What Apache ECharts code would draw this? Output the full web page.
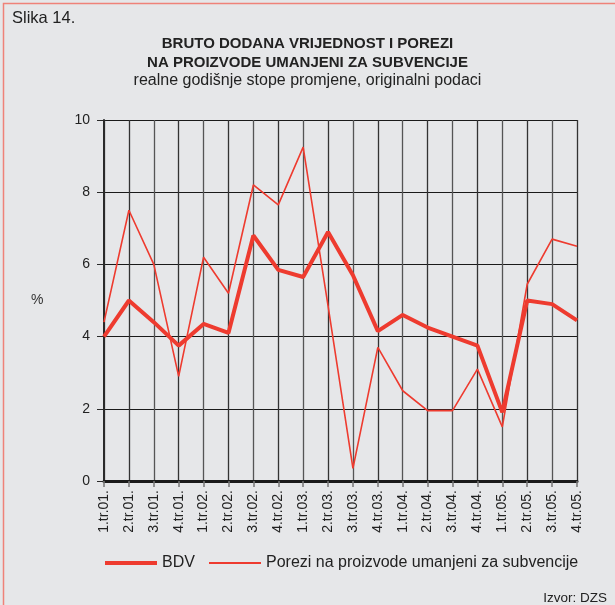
<!DOCTYPE html>
<html>
<head>
<meta charset="utf-8">
<script src="https://cdn.jsdelivr.net/npm/echarts@6/dist/echarts.min.js"></script>
<style>
html,body{margin:0;padding:0;background:#e6e7e9;}
#c{width:615px;height:605px;}
</style>
</head>
<body>
<div id="c"></div>
<script>
const categories = ['1.tr.01.','2.tr.01.','3.tr.01.','4.tr.01.','1.tr.02.','2.tr.02.','3.tr.02.','4.tr.02.','1.tr.03.','2.tr.03.','3.tr.03.','4.tr.03.','1.tr.04.','2.tr.04.','3.tr.04.','4.tr.04.','1.tr.05.','2.tr.05.','3.tr.05.','4.tr.05.'];
const bdv = [4.0,5.0,4.4,3.75,4.35,4.1,6.8,5.85,5.65,6.9,5.7,4.15,4.6,4.25,4.0,3.75,1.9,5.0,4.9,4.45];
const porezi = [4.4,7.5,6.0,2.9,6.2,5.2,8.2,7.65,9.25,4.85,0.35,3.7,2.5,1.95,1.95,3.1,1.5,5.45,6.7,6.5];
const yTicks = [0,2,4,6,8,10];

const font = 'Liberation Sans, Arial, sans-serif';
const red = '#ee3b2f';
const chart = echarts.init(document.getElementById('c'), null, {renderer:'canvas'});
chart.setOption({
  backgroundColor:'#e6e7e9',
  animation:false,
  title:[
    {text:'Slika 14.', left:7, top:5, textStyle:{fontFamily:font, fontSize:16.5, fontWeight:'normal', color:'#222'}},
    {text:'BRUTO DODANA VRIJEDNOST I POREZI\nNA PROIZVODE UMANJENI ZA SUBVENCIJE', left:'center', top:29,
     textStyle:{fontFamily:font, fontSize:15, fontWeight:'bold', color:'#222', lineHeight:19},
     subtext:'realne godišnje stope promjene, originalni podaci', itemGap:0,
     subtextStyle:{fontFamily:font, fontSize:16, color:'#222', lineHeight:18}},
    {text:'Izvor: DZS', right:3, top:586, textStyle:{fontFamily:font, fontSize:13.5, fontWeight:'normal', color:'#222'}}
  ],
  graphic:[
    {type:'rect', left:1, top:1, shape:{width:613, height:604}, style:{fill:'none', stroke:'#ef8279', lineWidth:1.5}, silent:true},
    {type:'text', left:31, top:293, style:{text:'%', font:'14px '+font, fill:'#333'}}
  ],
  legend:[
    {data:[{name:'BDV'}], left:100, top:550, itemWidth:52, itemHeight:4, icon:'rect', itemGap:6,
     textStyle:{fontFamily:font, fontSize:16, color:'#222'}},
    {data:[{name:'Porezi na proizvode umanjeni za subvencije'}], left:204, top:550, itemWidth:52, itemHeight:2, icon:'rect',
     textStyle:{fontFamily:font, fontSize:16, color:'#222'}}
  ],
  grid:{left:104, right:38, top:120, bottom:124, containLabel:false},
  xAxis:{
    type:'category', data:categories, boundaryGap:false,
    axisLine:{lineStyle:{color:'#1a1a1a', width:3}},
    axisTick:{show:true, alignWithLabel:true, length:6, lineStyle:{color:'#777', width:1.5}},
    axisLabel:{rotate:90, interval:0, margin:9, fontFamily:font, fontSize:14, color:'#222'},
    splitLine:{show:true, interval:0, lineStyle:{color:['#555','#333'], width:1.3}}
  },
  yAxis:{
    type:'value', min:0, max:10, interval:2,
    axisLine:{show:true, lineStyle:{color:'#2a2a2a', width:2}},
    axisTick:{show:true, length:7, lineStyle:{color:'#2a2a2a', width:1}},
    axisLabel:{margin:14, fontFamily:font, fontSize:14, color:'#222',
      formatter:function(v){return yTicks.indexOf(v)>=0?String(v):'';}},
    splitLine:{show:true, lineStyle:{color:'#1a1a1a', width:1}}
  },
  series:[
    {name:'BDV', type:'line', data:bdv, symbol:'none', lineStyle:{color:red, width:4}, itemStyle:{color:red}, z:3},
    {name:'Porezi na proizvode umanjeni za subvencije', type:'line', data:porezi, symbol:'none',
     lineStyle:{color:red, width:1.6}, itemStyle:{color:red}, z:2}
  ]
});
</script>
</body>
</html>
